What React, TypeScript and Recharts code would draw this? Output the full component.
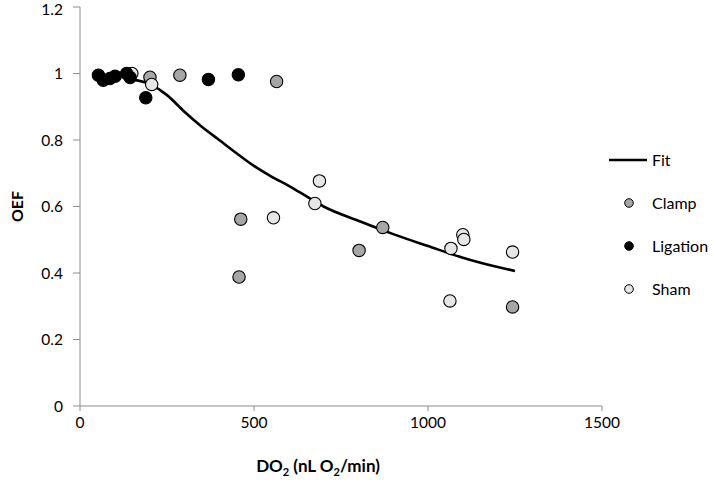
import React from 'react';
import { ScatterChart, Scatter, XAxis, YAxis, Legend, Label } from 'recharts';

// measured points, DO2 (nL O2/min) vs OEF
const clampX = [201, 287, 565, 462, 457, 870, 802, 1243];
const clampY = [0.989, 0.995, 0.976, 0.562, 0.388, 0.537, 0.468, 0.298];

const ligationX = [53, 67, 86, 101, 134, 144, 189, 369, 455];
const ligationY = [0.995, 0.98, 0.985, 0.992, 1.0, 0.988, 0.927, 0.982, 0.996];

const shamX = [149, 206, 556, 688, 675, 1066, 1063, 1100, 1103, 1243];
const shamY = [1.0, 0.967, 0.566, 0.677, 0.609, 0.474, 0.316, 0.515, 0.501, 0.463];

// fitted curve
const fitX = [148, 200, 250, 300, 350, 400, 450, 500, 550, 600, 650, 700, 800, 900, 1000, 1100, 1200, 1250];
const fitY = [0.983, 0.968, 0.935, 0.885, 0.84, 0.8, 0.76, 0.722, 0.69, 0.662, 0.631, 0.6, 0.557, 0.517, 0.481, 0.446, 0.418, 0.406];

const xTicks = [0, 500, 1000, 1500];
const yTicks = [0, 0.2, 0.4, 0.6, 0.8, 1, 1.2];

const legendOrder = ['Fit', 'Clamp', 'Ligation', 'Sham'];

const zip = (xs: number[], ys: number[]) => xs.map((x, i) => ({ x, y: ys[i] }));

const FONT = 'Lato, "Open Sans", sans-serif';
const AXIS_GRAY = '#8c8c8c';

const seriesStyle: Record<string, { fill: string }> = {
  Clamp: { fill: '#a6a6a6' },
  Ligation: { fill: '#000000' },
  Sham: { fill: '#e6e6e6' },
};

const dot = (fill: string) => (props: any) => {
  const { cx, cy } = props;
  if (cx == null || cy == null) return <g />;
  return <circle cx={cx} cy={cy} r={6.2} fill={fill} stroke="#000" strokeWidth={1.1} />;
};

const renderLegend = (props: any) => {
  const items = [...(props.payload || [])].sort(
    (a: any, b: any) => legendOrder.indexOf(a.value) - legendOrder.indexOf(b.value)
  );
  return (
    <div style={{ fontFamily: FONT, fontSize: 16, color: '#000' }}>
      {items.map((item: any) => (
        <div key={item.value} style={{ display: 'flex', alignItems: 'center', height: 43, whiteSpace: 'nowrap' }}>
          <svg width={46} height={20} style={{ display: 'block' }}>
            {item.value === 'Fit' ? (
              <line x1={4} y1={10} x2={42} y2={10} stroke="#000" strokeWidth={2.5} />
            ) : (
              <circle cx={24} cy={10} r={4.3} fill={seriesStyle[item.value].fill} stroke="#000" strokeWidth={1} />
            )}
          </svg>
          <span style={{ marginLeft: 1 }}>{item.value}</span>
        </div>
      ))}
    </div>
  );
};

const XTitle = (props: any) => {
  const { viewBox } = props;
  const y = viewBox.y + 66;
  return (
    <text x={318} y={y} textAnchor="middle" fontFamily={FONT} fontWeight="bold" fontSize={17} fill="#000">
      <tspan>DO</tspan>
      <tspan fontSize={11} dy={4}>2</tspan>
      <tspan dy={-4}> (nL O</tspan>
      <tspan fontSize={11} dy={4}>2</tspan>
      <tspan dy={-4}>/min)</tspan>
    </text>
  );
};

const YTitle = (props: any) => {
  const { viewBox } = props;
  const cy = viewBox.y + viewBox.height / 2;
  return (
    <text
      x={16}
      y={cy}
      transform={`rotate(-90 16 ${cy})`}
      textAnchor="middle"
      dominantBaseline="central"
      fontFamily={FONT}
      fontWeight="bold"
      fontSize={16}
      fill="#000"
    >
      OEF
    </text>
  );
};

const App: React.FC = () => {
  return (
    <div style={{ position: 'absolute', top: 0, left: 0, width: 714, height: 483, background: '#fff' }}>
      <ScatterChart width={714} height={483} margin={{ top: 7, right: 112, bottom: 0, left: 0 }} style={{ overflow: 'visible' }}>
        <XAxis
          type="number"
          dataKey="x"
          domain={[0, 1500]}
          ticks={xTicks}
          height={77}
          tickSize={5}
          tickMargin={6}
          stroke={AXIS_GRAY}
          tick={{ fill: '#000', fontSize: 15.5, fontFamily: FONT }}
          allowDataOverflow
        >
          <Label content={<XTitle />} />
        </XAxis>
        <YAxis
          type="number"
          dataKey="y"
          domain={[0, 1.2]}
          ticks={yTicks}
          width={80}
          tickSize={7}
          tickMargin={10}
          stroke={AXIS_GRAY}
          tick={{ fill: '#000', fontSize: 15.5, fontFamily: FONT }}
          allowDataOverflow
        >
          <Label content={<YTitle />} />
        </YAxis>
        <Scatter
          name="Fit"
          data={zip(fitX, fitY)}
          line={{ stroke: '#000', strokeWidth: 2.6 }}
          lineJointType="monotoneX"
          shape={() => <g />}
          legendType="line"
          isAnimationActive={false}
        />
        <Scatter name="Clamp" data={zip(clampX, clampY)} shape={dot(seriesStyle.Clamp.fill)} fill={seriesStyle.Clamp.fill} isAnimationActive={false} />
        <Scatter name="Sham" data={zip(shamX, shamY)} shape={dot(seriesStyle.Sham.fill)} fill={seriesStyle.Sham.fill} isAnimationActive={false} />
        <Scatter name="Ligation" data={zip(ligationX, ligationY)} shape={dot(seriesStyle.Ligation.fill)} fill={seriesStyle.Ligation.fill} isAnimationActive={false} />
        <Legend
          layout="vertical"
          align="center"
          verticalAlign="middle"
          content={renderLegend}
          wrapperStyle={{ top: 138, left: 605, width: 109 }}
        />
      </ScatterChart>
    </div>
  );
};

export default App;
